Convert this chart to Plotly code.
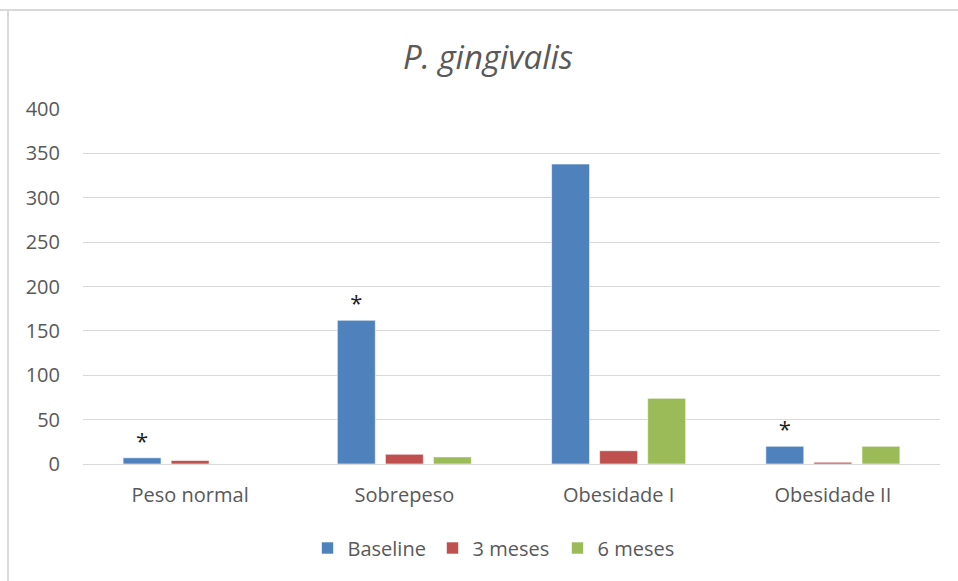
import plotly.graph_objects as go

# Grupos de IMC e carga de P. gingivalis por visita
categorias = ["Peso normal", "Sobrepeso", "Obesidade I", "Obesidade II"]
baseline = [7, 162, 338, 20]
meses3 = [4, 11, 15, 2]
meses6 = [0, 8, 74, 20]
significativo = [True, True, False, True]

series = [
    ("Baseline", baseline, "#4F81BD"),
    ("3 meses", meses3, "#C0504D"),
    ("6 meses", meses6, "#9BBB59"),
]

FONT = "'Open Sans', 'Noto Sans', sans-serif"
GRAY = "#595959"

fig = go.Figure()
for nome, valores, cor in series:
    extra = {}
    if nome == "Baseline":
        # asterisco sobre as barras de baseline com diferença significativa
        extra = dict(
            text=["*" if s else "" for s in significativo],
            textposition="outside",
            textfont=dict(size=22, color="#222222", family=FONT),
            cliponaxis=False,
        )
    fig.add_trace(go.Bar(
        name=nome, x=categorias, y=valores,
        marker=dict(color=cor, line=dict(color="rgba(255,255,255,0.6)", width=1)),
        hoverinfo="x+y",
        **extra,
    ))

fig.update_layout(
    width=958, height=581,
    margin=dict(l=83, r=18, t=109, b=117),
    paper_bgcolor="white", plot_bgcolor="white",
    barmode="group", bargap=0.327, bargroupgap=0.21,
    title=dict(text="<i>P. gingivalis</i>", x=488/958, xanchor="center",
               y=1 - 57/581, yanchor="middle",
               font=dict(size=33, color=GRAY, family=FONT)),
    font=dict(family=FONT, color=GRAY, size=20),
    xaxis=dict(showline=True, linecolor="#D9D9D9", linewidth=1,
               ticks="", tickfont=dict(size=20, color=GRAY), showgrid=False,
               ticklabelstandoff=13),
    yaxis=dict(range=[0, 400], dtick=50, showgrid=True, gridcolor="#D9D9D9",
               gridwidth=1, zeroline=False, ticks="", showline=False,
               tickfont=dict(size=20, color=GRAY), ticklabelstandoff=22),
    legend=dict(orientation="h", x=495/958, xref="container", xanchor="center",
                y=1 - 548/581, yref="container", yanchor="middle",
                font=dict(size=20, color=GRAY), traceorder="normal",
                itemwidth=30, entrywidth=80, entrywidthmode="pixels"),
    showlegend=True,
)

# Moldura do gráfico (topo e esquerda)
fig.add_shape(type="line", xref="paper", yref="paper", x0=-83/857, x1=1+18/857,
              y0=1+(109-10)/355, y1=1+(109-10)/355, line=dict(color="#D9D9D9", width=2))
fig.add_shape(type="line", xref="paper", yref="paper", x0=-75/857, x1=-75/857,
              y0=1+(109-10)/355, y1=-117/355, line=dict(color="#D9D9D9", width=2))

fig.write_html("out.html")
